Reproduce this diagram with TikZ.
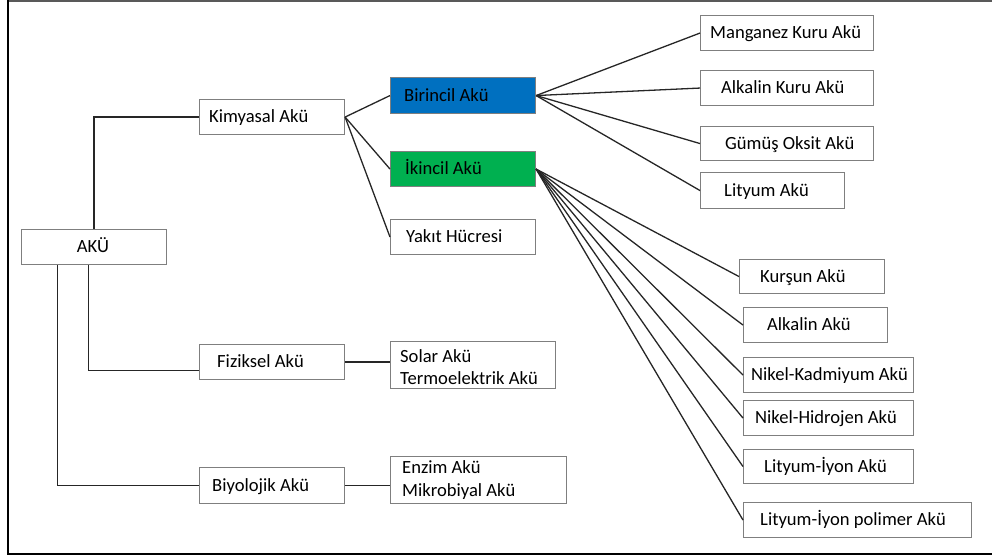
\documentclass[tikz,border=0pt]{standalone}
\usepackage{fontspec}
\setmainfont{Carlito}
\definecolor{boxgray}{HTML}{7F7F7F}
\definecolor{birblue}{HTML}{0070C0}
\definecolor{ikigreen}{HTML}{00B050}
\begin{document}
\begin{tikzpicture}[x=1pt,y=-1pt,
  box/.style={draw=boxgray,line width=1.1pt,rectangle,inner sep=0pt,anchor=north west,fill=white},
  txt/.style={inner sep=0pt,anchor=base west,font=\fontsize{18.6}{22}\selectfont,text=black},
  conn/.style={draw=black!85,line width=1.3pt},
  frame/.style={line width=2.5pt,draw=black}]
\useasboundingbox (0,0) rectangle (992,557);
% frame
\draw[draw=black!65,line width=1.5pt] (8,0.75) -- (992,0.75);
\draw[frame] (8,0) -- (8,554) -- (992,554);
% boxes
\node[box,minimum width=145pt,minimum height=35pt] (aku) at (21,229) {};
\node[box,minimum width=145pt,minimum height=35pt] (kim) at (199,99) {};
\node[box,minimum width=145pt,minimum height=35pt] (fiz) at (199,344) {};
\node[box,minimum width=145pt,minimum height=36pt] (biy) at (199,467) {};
\node[box,minimum width=145pt,minimum height=36pt,fill=birblue] (bir) at (390,77) {};
\node[box,minimum width=145pt,minimum height=35pt,fill=ikigreen] (iki) at (390,151) {};
\node[box,minimum width=145pt,minimum height=35pt] (yak) at (390,219) {};
\node[box,minimum width=165pt,minimum height=47pt] (sol) at (390,341) {};
\node[box,minimum width=176pt,minimum height=47pt] (enz) at (390,456) {};
\node[box,minimum width=173pt,minimum height=35pt] (man) at (700,15) {};
\node[box,minimum width=173pt,minimum height=35pt] (alk) at (700,70) {};
\node[box,minimum width=173pt,minimum height=34pt] (gum) at (700,126) {};
\node[box,minimum width=144pt,minimum height=36pt] (lit) at (700,172) {};
\node[box,minimum width=145pt,minimum height=34pt] (kur) at (739,259) {};
\node[box,minimum width=144pt,minimum height=35pt] (alka) at (743,307) {};
\node[box,minimum width=170pt,minimum height=35pt] (nik) at (743,357) {};
\node[box,minimum width=170pt,minimum height=35pt] (nih) at (743,400) {};
\node[box,minimum width=170pt,minimum height=34pt] (liy) at (743,449) {};
\node[box,minimum width=228pt,minimum height=35pt] (lip) at (743,502) {};
% texts
\node[txt,anchor=base] (akuT) at (93,252.5) {AKÜ};
\node[txt] (kimT) at (209,122.5) {Kimyasal Akü};
\node[txt] (fizT) at (217,367.5) {Fiziksel Akü};
\node[txt] (biyT) at (212,491) {Biyolojik Akü};
\node[txt] (birT) at (404,101) {Birincil Akü};
\node[txt] (ikiT) at (405,174.5) {İkincil Akü};
\node[txt] (yakT) at (406,242.5) {Yakıt Hücresi};
\node[txt] (solT) at (400,362) {Solar Akü};
\node[txt] (terT) at (400,384) {Termoelektrik Akü};
\node[txt] (enzT) at (402,473.5) {Enzim Akü};
\node[txt] (mikT) at (402,496) {Mikrobiyal Akü};
\node[txt] (manT) at (710,38.5) {Manganez Kuru Akü};
\node[txt] (alkT) at (721,93.5) {Alkalin Kuru Akü};
\node[txt] (gumT) at (725,149) {Gümüş Oksit Akü};
\node[txt] (litT) at (724,196) {Lityum Akü};
\node[txt] (kurT) at (760,282) {Kurşun Akü};
\node[txt] (alkaT) at (767,330.5) {Alkalin Akü};
\node[txt] (nikT) at (751,380.5) {Nikel-Kadmiyum Akü};
\node[txt] (nihT) at (755,423.5) {Nikel-Hidrojen Akü};
\node[txt] (liyT) at (764,472) {Lityum-İyon Akü};
\node[txt] (lipT) at (760,525.5) {Lityum-İyon polimer Akü};
% connectors
\draw[conn] (aku.north) |- (kim.west);
\draw[conn] ([xshift=-5.5pt]aku.south) |- ([yshift=-8.5pt]fiz.west);
\draw[conn] ([xshift=-36.5pt]aku.south) |- (biy.west);
\draw[conn] (fiz.east) -- (fiz.east -| sol.west);
\draw[conn] (biy.east) -- (biy.east -| enz.west);
\foreach \t in {bir,iki,yak} \draw[conn] (kim.east) -- (\t.west);
\foreach \t in {man,alk,gum,lit} \draw[conn] (bir.east) -- (\t.west);
\foreach \t in {kur,alka,nik,nih,liy,lip} \draw[conn] (iki.east) -- (\t.west);
\end{tikzpicture}
\end{document}
